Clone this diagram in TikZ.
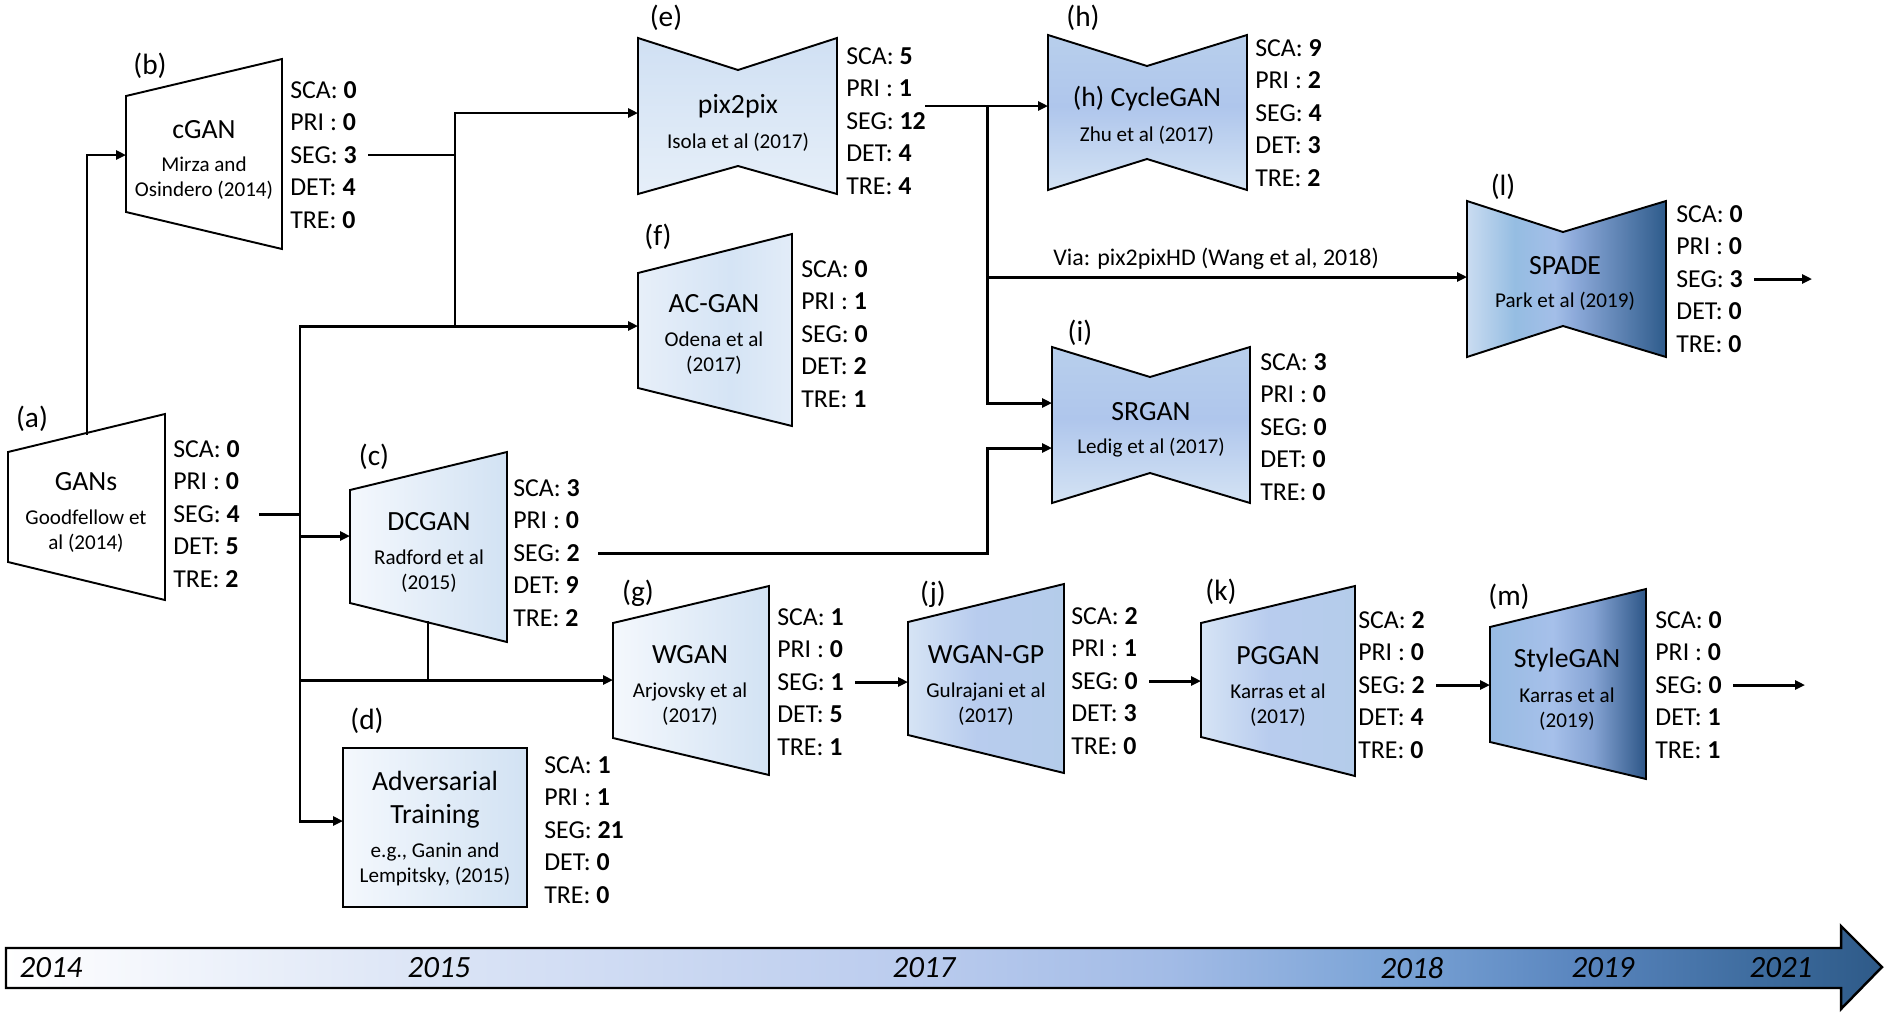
\documentclass[tikz,border=0pt]{standalone}
\usepackage{fontspec}
\setmainfont{Carlito}
\usepackage{xcolor}
\usepackage{tikz}
\usetikzlibrary{positioning,arrows.meta}

% block colours
\definecolor{lightL}{HTML}{F4F8FD}
\definecolor{lightR}{HTML}{D2E2F3}
\definecolor{acL}{HTML}{E7EFF9}
\definecolor{acM}{HTML}{D5E4F5}
\definecolor{acR}{HTML}{E2ECF8}
\definecolor{pixT}{HTML}{D0E0F3}
\definecolor{pixB}{HTML}{E6EFF9}
\definecolor{cycT}{HTML}{B8CFEC}
\definecolor{cycM}{HTML}{AFC6EC}
\definecolor{cycB}{HTML}{D4E3F4}
\definecolor{midL}{HTML}{D6E4F5}
\definecolor{midM}{HTML}{B8CCEE}
\definecolor{midR}{HTML}{B4CCEA}
\definecolor{spA}{HTML}{CADCF1}
\definecolor{spB}{HTML}{95BDE2}
\definecolor{spC}{HTML}{A3BEE8}
\definecolor{spD}{HTML}{8DAADA}
\definecolor{spE}{HTML}{2E5B8B}
\definecolor{syA}{HTML}{98BBE2}
\definecolor{syB}{HTML}{A6C0EA}
\definecolor{syC}{HTML}{86A4D4}
\definecolor{syD}{HTML}{2D5687}
% timeline colours
\definecolor{tlA}{HTML}{DCE5F6}
\definecolor{tlB}{HTML}{BBCCEE}
\definecolor{tlC}{HTML}{A2BBE6}
\definecolor{tlD}{HTML}{7AA3D6}
\definecolor{tlE}{HTML}{5985BE}
\definecolor{tlF}{HTML}{3C6A9C}
\definecolor{tlG}{HTML}{2E5A88}

\pgfdeclarehorizontalshading{whiteblue}{100bp}{color(0bp)=(lightL); color(25bp)=(lightL); color(75bp)=(lightR); color(100bp)=(lightR)}
\pgfdeclarehorizontalshading{acsh}{100bp}{color(0bp)=(acL); color(25bp)=(acL); color(55bp)=(acM); color(75bp)=(acR); color(100bp)=(acR)}
\pgfdeclareverticalshading{pixsh}{100bp}{color(0bp)=(pixB); color(25bp)=(pixB); color(75bp)=(pixT); color(100bp)=(pixT)}
\pgfdeclareverticalshading{cycsh}{100bp}{color(0bp)=(cycB); color(25bp)=(cycB); color(52bp)=(cycM); color(75bp)=(cycT); color(100bp)=(cycT)}
\pgfdeclarehorizontalshading{midsh}{100bp}{color(0bp)=(midL); color(25bp)=(midL); color(47bp)=(midM); color(75bp)=(midR); color(100bp)=(midR)}
\pgfdeclarehorizontalshading{spsh}{100bp}{color(0bp)=(spA); color(25bp)=(spA); color(37bp)=(spB); color(47bp)=(spC); color(52bp)=(spD); color(75bp)=(spE); color(100bp)=(spE)}
\pgfdeclarehorizontalshading{sysh}{100bp}{color(0bp)=(syA); color(25bp)=(syA); color(45bp)=(syB); color(58bp)=(syC); color(75bp)=(syD); color(100bp)=(syD)}
\pgfdeclarehorizontalshading{tlsh}{100bp}{color(0bp)=(white); color(25bp)=(white); color(36bp)=(tlA); color(49bp)=(tlB); color(56bp)=(tlC); color(62bp)=(tlD); color(67bp)=(tlE); color(72bp)=(tlF); color(75bp)=(tlG); color(100bp)=(tlG)}

\newcommand{\scores}[5]{SCA: \textbf{#1}\\PRI : \textbf{#2}\\SEG: \textbf{#3}\\DET: \textbf{#4}\\TRE: \textbf{#5}}

\begin{document}
\begin{tikzpicture}[x=0.2mm, y=-0.2mm,
  >={Triangle[length=2mm,width=1.8mm]},
  blk/.style={draw=black, line width=1.1pt},
  ttl/.style={font=\fontsize{15.8}{19}\selectfont, inner sep=0pt, text height=0.75em, text depth=0.25em, yshift=-0.8mm},
  ttlb/.style={font=\fontsize{15.8}{18.8}\selectfont, inner sep=0pt, align=center},
  sub/.style={font=\fontsize{12}{14.3}\selectfont, inner sep=0pt, align=center},
  stat/.style={font=\fontsize{14.7}{18.5}\selectfont, inner sep=0pt, align=left, anchor=west},
  lbl/.style={font=\fontsize{16.7}{20}\selectfont, inner sep=0pt},
  conn/.style={line width=1.7pt, line cap=rect},
  fromst/.style={shorten <=2.4mm},
  via/.style={font=\fontsize{13.6}{16}\selectfont, inner sep=0pt},
  yr/.style={font=\fontsize{17.6}{20}\selectfont\itshape, inner sep=0pt}]

\useasboundingbox (0,0) rectangle (1887,1017);

% (a) GANs
\draw[blk, fill=white] (8,452) -- (165,414) -- (165,600) -- (8,562) -- cycle;
\node[lbl] (lab-a) at (32,419) {(a)};
\node[ttl] (gans) at (86,482) {GANs};
\node[sub] (gans-sub) at (86,531) {Goodfellow et\\al (2014)};
\node[stat] (gans-st) at (173,514) {\scores{0}{0}{4}{5}{2}};

% (b) cGAN
\draw[blk, fill=white] (126,96) -- (282,59) -- (282,249) -- (126,212) -- cycle;
\node[lbl] (lab-b) at (150,66) {(b)};
\node[ttl] (cgan) at (204,130) {cGAN};
\node[sub] (cgan-sub) at (204,178) {Mirza and\\Osindero (2014)};
\node[stat] (cgan-st) at (290,155) {\scores{0}{0}{3}{4}{0}};

% (c) DCGAN
\draw[blk, shade, shading=whiteblue] (350,490) -- (507,452) -- (507,642) -- (350,603) -- cycle;
\node[lbl] (lab-c) at (374,457) {(c)};
\node[ttl] (dcgan) at (429,522) {DCGAN};
\node[sub] (dcgan-sub) at (429,571) {Radford et al\\(2015)};
\node[stat] (dcgan-st) at (513,553) {\scores{3}{0}{2}{9}{2}};

% (d) Adversarial training
\draw[blk, shade, shading=whiteblue] (343,748) rectangle (527,907);
\node[lbl] (lab-d) at (367,721) {(d)};
\node[ttlb] (advtr) at (435,800) {Adversarial\\Training};
\node[sub] (advtr-sub) at (435,864) {e.g., Ganin and\\Lempitsky, (2015)};
\node[stat] (advtr-st) at (544,830) {\scores{1}{1}{21}{0}{0}};

% (e) pix2pix
\draw[blk, shade, shading=pixsh] (638,38) -- (738,70) -- (837,38) -- (837,194) -- (738,166) -- (638,194) -- cycle;
\node[lbl] (lab-e) at (666,18) {(e)};
\node[ttl] (pix) at (738,105) {pix2pix};
\node[sub] (pix-sub) at (738,142) {Isola et al (2017)};
\node[stat] (pix-st) at (846,121) {\scores{5}{1}{12}{4}{4}};

% (f) AC-GAN
\draw[blk, shade, shading=acsh] (638,273) -- (792,234) -- (792,426) -- (638,388) -- cycle;
\node[lbl] (lab-f) at (658,237) {(f)};
\node[ttl] (acgan) at (714,304) {AC-GAN};
\node[sub] (acgan-sub) at (714,353) {Odena et al\\(2017)};
\node[stat] (acgan-st) at (801,334) {\scores{0}{1}{0}{2}{1}};

% (g) WGAN
\draw[blk, shade, shading=whiteblue] (613,623) -- (769,586) -- (769,775) -- (613,738) -- cycle;
\node[lbl] (lab-g) at (638,593) {(g)};
\node[ttl] (wgan) at (690,655) {WGAN};
\node[sub] (wgan-sub) at (690,704) {Arjovsky et al\\(2017)};
\node[stat] (wgan-st) at (777,682) {\scores{1}{0}{1}{5}{1}};

% (h) CycleGAN
\draw[blk, shade, shading=cycsh] (1048,35) -- (1147,66) -- (1247,35) -- (1247,190) -- (1147,159) -- (1048,190) -- cycle;
\node[lbl] (lab-h) at (1083,18) {(h)};
\node[ttl] (cyc) at (1147,98) {(h) CycleGAN};
\node[sub] (cyc-sub) at (1147,135) {Zhu et al (2017)};
\node[stat] (cyc-st) at (1255,113) {\scores{9}{2}{4}{3}{2}};

% (i) SRGAN
\draw[blk, shade, shading=cycsh] (1052,347) -- (1150,377) -- (1250,347) -- (1250,503) -- (1150,473) -- (1052,503) -- cycle;
\node[lbl] (lab-i) at (1080,333) {(i)};
\node[ttl] (srgan) at (1151,412) {SRGAN};
\node[sub] (srgan-sub) at (1151,448) {Ledig et al (2017)};
\node[stat] (srgan-st) at (1260,427) {\scores{3}{0}{0}{0}{0}};

% (j) WGAN-GP
\draw[blk, shade, shading=midsh] (908,622) -- (1064,584) -- (1064,773) -- (908,735) -- cycle;
\node[lbl] (lab-j) at (933,594) {(j)};
\node[ttl] (wgp) at (986,655) {WGAN-GP};
\node[sub] (wgp-sub) at (986,704) {Gulrajani et al\\(2017)};
\node[stat] (wgp-st) at (1071,681) {\scores{2}{1}{0}{3}{0}};

% (k) PGGAN
\draw[blk, shade, shading=midsh] (1201,623) -- (1355,586) -- (1355,776) -- (1201,737) -- cycle;
\node[lbl] (lab-k) at (1221,592) {(k)};
\node[ttl] (pggan) at (1278,656) {PGGAN};
\node[sub] (pggan-sub) at (1278,705) {Karras et al\\(2017)};
\node[stat] (pggan-st) at (1358,685) {\scores{2}{0}{2}{4}{0}};

% (l) SPADE
\draw[blk, shade, shading=spsh] (1467,201) -- (1563,232) -- (1666,201) -- (1666,357) -- (1563,326) -- (1467,357) -- cycle;
\node[lbl] (lab-l) at (1503,187) {(l)};
\node[ttl] (spade) at (1565,266) {SPADE};
\node[sub] (spade-sub) at (1565,301) {Park et al (2019)};
\node[stat] (spade-st) at (1676,279) {\scores{0}{0}{3}{0}{0}};

% (m) StyleGAN
\draw[blk, shade, shading=sysh] (1490,627) -- (1646,589) -- (1646,779) -- (1490,742) -- cycle;
\node[lbl] (lab-m) at (1509,597) {(m)};
\node[ttl] (style) at (1567,659) {StyleGAN};
\node[sub] (style-sub) at (1567,709) {Karras et al\\(2019)};
\node[stat] (style-st) at (1655,685) {\scores{0}{0}{0}{1}{1}};

% entry points on the block edges
\coordinate (gans-top) at (87,433);
\coordinate (cgan-in) at (126,155);
\coordinate (dcgan-in) at (350,536);
\coordinate (dcgan-bot) at (428,622);
\coordinate (advtr-in) at (343,821);
\coordinate (pix-in) at (638,113);
\coordinate (acgan-in) at (638,326);
\coordinate (wgan-in) at (613,680);
\coordinate (cyc-in) at (1048,106);
\coordinate (srgan-in) at (1052,403);
\coordinate (srgan-in2) at (1052,448);
\coordinate (spade-in) at (1467,277);
\coordinate (wgp-in) at (908,681);
\coordinate (pggan-in) at (1201,683);
\coordinate (style-in) at (1490,684);
\coordinate (spade-out) at (1812,277);
\coordinate (style-out) at (1805,684);

% vertical buses
\coordinate (bus1) at (300,326);
\coordinate (bus2) at (455,113);
\coordinate (bus3) at (987,106);

% Edges from GANs
\draw[conn, ->] (gans-top) |- (cgan-in);
\draw[conn, fromst, shorten <=4mm] (gans-st.east) -- (gans-st.east -| bus1);
\draw[conn, ->] (bus1 |- advtr-in) -- (bus1) -- (acgan-in);
\draw[conn, ->] (bus1 |- dcgan-in) -- (dcgan-in);
\draw[conn, ->] (bus1 |- wgan-in) -- (wgan-in);
\draw[conn, ->] (bus1 |- advtr-in) -- (advtr-in);
\draw[conn] (dcgan-bot) -- (dcgan-bot |- wgan-in);

% Edges from cGAN
\draw[conn, fromst] (cgan-st.east) -- (cgan-st.east -| bus2);
\draw[conn, ->] (bus2 |- bus1) -- (bus2) -- (pix-in);

% Edges from pix2pix
\draw[conn, ->] (pix-st.east |- bus3) -- (cyc-in);
\draw[conn, ->] (bus3) |- (srgan-in);
\draw[conn, ->] (bus3 |- spade-in) -- node[via, pos=0.135, anchor=south west, yshift=1.2mm] (via) {Via: pix2pixHD (Wang et al, 2018)} (spade-in);

% Edge from DCGAN
\draw[conn, ->, shorten <=3.8mm] (dcgan-st.east) -- (dcgan-st.east -| bus3) |- (srgan-in2);

% Lower chain
\draw[conn, ->, fromst] (wgan-st.east) -- (wgan-st.east -| wgp-in);
\draw[conn, ->, fromst] (wgp-st.east) -- (wgp-st.east -| pggan-in);
\draw[conn, ->, fromst] (pggan-st.east) -- (pggan-st.east -| style-in);
\draw[conn, ->, fromst] (style-st.east) -- (style-st.east -| style-out);
\draw[conn, ->, fromst] (spade-st.east) -- (spade-st.east -| spade-out);

% Timeline
\draw[line width=1.4pt, shade, shading=tlsh] (6,948) -- (1841,948) -- (1841,926) -- (1882,967) -- (1841,1009) -- (1841,988) -- (6,988) -- cycle;
\foreach \yr/\xx in {2014/51, 2015/439, 2017/924, 2018/1412, 2019/1603, 2021/1781}
    \node[yr] (y\yr) at (\xx,968) {\yr};

\end{tikzpicture}
\end{document}
